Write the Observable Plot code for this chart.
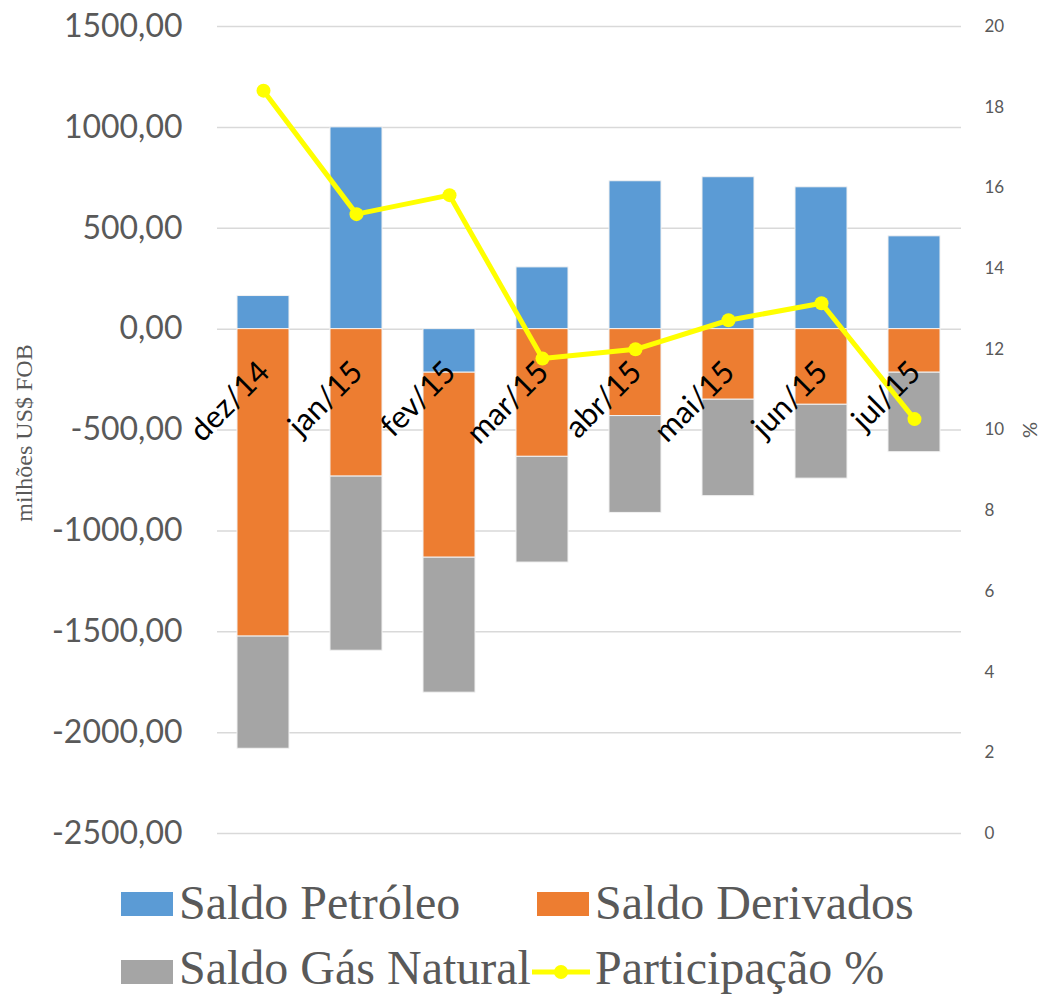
<!DOCTYPE html>
<html>
<head>
<meta charset="utf-8">
<script src="https://cdn.jsdelivr.net/npm/d3@7"></script>
<script src="https://cdn.jsdelivr.net/npm/@observablehq/plot@0.6"></script>
<style>
  html, body { margin: 0; padding: 0; background: #fff; }
  #wrap { width: 1042px; }
  #legend { position: relative; width: 1042px; height: 135px; font-family: "Liberation Serif", "Times New Roman", serif; font-size: 48px; line-height: 48px; color: #595959; }
  #legend .sw { position: absolute; width: 52px; height: 24px; }
  #legend .tx { position: absolute; white-space: nowrap; }
</style>
</head>
<body>
<div id="wrap">
  <div id="chart"></div>
  <div id="legend"></div>
</div>
<script>
const meses = ["dez/14", "jan/15", "fev/15", "mar/15", "abr/15", "mai/15", "jun/15", "jul/15"];
const saldoPetroleo = [164, 1000, -216, 306, 733, 753, 703, 460];
const saldoDerivados = [-1524, -731, -917, -633, -431, -350, -375, -216];
const saldoGasNatural = [-556, -863, -669, -524, -480, -478, -366, -394];
const participacao = [18.41, 15.35, 15.82, 11.77, 12.0, 12.72, 13.14, 10.27];
const leftTicks = [-2500, -2000, -1500, -1000, -500, 0, 500, 1000, 1500];
const rightTicks = [0, 2, 4, 6, 8, 10, 12, 14, 16, 18, 20];
const seriesNames = ["Saldo Petróleo", "Saldo Derivados", "Saldo Gás Natural", "Participação %"];
const seriesColors = ["#5B9BD5", "#ED7D31", "#A5A5A5", "#FFFF00"];

// secondary (%) axis shares the primary y scale: 0..20 maps onto -2500..1500
const toPrimary = p => p * 200 - 2500;

const bars = [];
[saldoPetroleo, saldoDerivados, saldoGasNatural].forEach((arr, s) => {
  arr.forEach((v, i) => bars.push({mes: meses[i], serie: seriesNames[s], valor: v}));
});
const linha = meses.map((m, i) => ({mes: m, p: participacao[i]}));

const fmt = d => d.toFixed(2).replace(".", ",");

const chart = Plot.plot({
  width: 1042,
  height: 860,
  marginTop: 26,
  marginBottom: 27,
  marginLeft: 217,
  marginRight: 81,
  style: {fontFamily: "Lato, sans-serif", color: "#595959", background: "#fff"},
  x: {domain: meses, paddingInner: 0.44, paddingOuter: 0.22, axis: null},
  y: {domain: [-2500, 1500], axis: null},
  color: {domain: seriesNames.slice(0, 3), range: seriesColors.slice(0, 3)},
  marks: [
    Plot.ruleY(leftTicks, {stroke: "#D9D9D9", strokeWidth: 1.5}),
    Plot.axisY(leftTicks, {anchor: "left", tickSize: 0, tickPadding: 35, tickFormat: fmt, fontSize: 32, fill: "#595959", label: null}),
    Plot.axisY(rightTicks.map(toPrimary), {anchor: "right", tickSize: 0, tickPadding: 23, tickFormat: d => String(Math.round((d + 2500) / 200)), fontSize: 17, fill: "#595959", textAnchor: "start", label: null}),
    Plot.barY(bars, {x: "mes", y: "valor", fill: "serie", stroke: "#f2f2f2", strokeWidth: 1, order: seriesNames.slice(0, 3)}),
    Plot.line(linha, {x: "mes", y: d => toPrimary(d.p), stroke: "#FFFF00", strokeWidth: 5}),
    Plot.dot(linha, {x: "mes", y: d => toPrimary(d.p), r: 7, fill: "#FFFF00", stroke: "none"}),
    Plot.text(meses, {x: d => d, y: () => 0, text: d => d, rotate: -45, textAnchor: "end", lineAnchor: "bottom", dx: 8, dy: 45, fontSize: 31, fill: "#000"}),
    Plot.text(["milhões US$ FOB"], {frameAnchor: "left", textAnchor: "middle", dx: -193, dy: 3, rotate: -90, text: d => d, fontFamily: "Liberation Serif, serif", fontSize: 24, fill: "#595959"}),
    Plot.text(["%"], {frameAnchor: "right", textAnchor: "middle", dx: 69, rotate: -90, text: d => d, fontSize: 20, fill: "#595959"})
  ]
});
document.getElementById("chart").appendChild(chart);

// legend (HTML, below the SVG)
const legend = document.getElementById("legend");
const items = [
  {name: seriesNames[0], color: seriesColors[0], sx: 121, tx: 179, row: 0, type: "box"},
  {name: seriesNames[1], color: seriesColors[1], sx: 537, tx: 595, row: 0, type: "box"},
  {name: seriesNames[2], color: seriesColors[2], sx: 121, tx: 179, row: 1, type: "box"},
  {name: seriesNames[3], color: seriesColors[3], sx: 532, tx: 595, row: 1, type: "line"}
];
const rowTop = [19, 84];
const swTop = [32, 100];
items.forEach(it => {
  if (it.type === "box") {
    const s = document.createElement("div");
    s.className = "sw";
    s.style.left = it.sx + "px";
    s.style.top = swTop[it.row] + "px";
    s.style.background = it.color;
    legend.appendChild(s);
  } else {
    const s = document.createElementNS("http://www.w3.org/2000/svg", "svg");
    s.setAttribute("width", 60);
    s.setAttribute("height", 20);
    s.style.position = "absolute";
    s.style.left = it.sx + "px";
    s.style.top = (swTop[it.row] + 2) + "px";
    s.innerHTML = `<line x1="0" y1="10" x2="58" y2="10" stroke="${it.color}" stroke-width="5"/><circle cx="29" cy="10" r="7" fill="${it.color}"/>`;
    legend.appendChild(s);
  }
  const t = document.createElement("div");
  t.className = "tx";
  t.style.left = it.tx + "px";
  t.style.top = rowTop[it.row] + "px";
  t.textContent = it.name;
  legend.appendChild(t);
});
</script>
</body>
</html>
